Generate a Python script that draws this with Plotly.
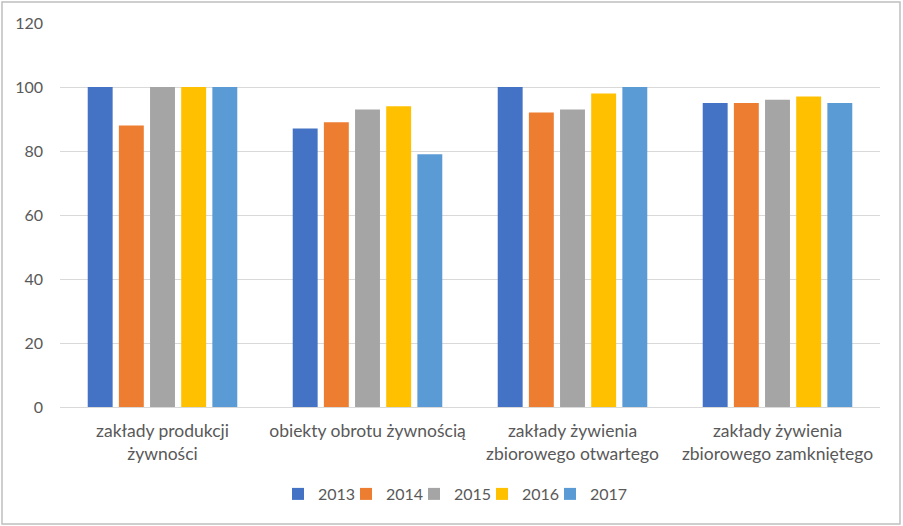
import plotly.graph_objects as go

categories = ["zakłady produkcji<br>żywności", "obiekty obrotu żywnością",
              "zakłady żywienia<br>zbiorowego otwartego", "zakłady żywienia<br>zbiorowego zamkniętego"]
years = ["2013", "2014", "2015", "2016", "2017"]
values_2013 = [100, 87, 100, 95]
values_2014 = [88, 89, 92, 95]
values_2015 = [100, 93, 93, 96]
values_2016 = [100, 94, 98, 97]
values_2017 = [100, 79, 100, 95]
colors = ["#4472C4", "#ED7D31", "#A5A5A5", "#FFC000", "#5B9BD5"]
yticks = [0, 20, 40, 60, 80, 100, 120]

series = [values_2013, values_2014, values_2015, values_2016, values_2017]

W, H = 903, 526
L, R, T, B = 60, 23, 23, 119
pw, ph = W - L - R, H - T - B

def px_x(p):
    return (p - L) / pw

def px_y(p):
    return (H - B - p) / ph

fig = go.Figure()
legends = {}
for i, (name, vals, c) in enumerate(zip(years, series, colors)):
    key = "legend" if i == 0 else f"legend{i + 1}"
    fig.add_trace(go.Bar(x=categories, y=vals, name=name, marker_color=c, marker_line_width=0,
                         legend=key))
    legends[key] = dict(orientation="h", yanchor="middle", y=px_y(494), xanchor="left",
                        x=px_x(278 + i * 68),
                        font=dict(size=16, color="#595959"), itemwidth=30,
                        bgcolor="rgba(0,0,0,0)")

fig.update_layout(
    width=W, height=H,
    margin=dict(l=L, r=R, t=T, b=B, autoexpand=False),
    paper_bgcolor="white", plot_bgcolor="white",
    font=dict(family="Lato, Liberation Sans, sans-serif", size=15, color="#595959"),
    barmode="group", bargap=0.24, bargroupgap=0.2,
    showlegend=True,
    xaxis=dict(showgrid=False, showline=True, linecolor="#D9D9D9", linewidth=1,
               ticks="", tickfont=dict(size=17.5, color="#595959"), ticklabelstandoff=8),
    yaxis=dict(range=[0, 120], tickvals=yticks, showgrid=True, gridcolor="#D9D9D9",
               gridwidth=1, zeroline=False, showline=False, ticks="",
               tickfont=dict(size=16, color="#595959"), ticklabelstandoff=16),
    shapes=[dict(type="rect", xref="paper", yref="paper",
                 x0=px_x(2), x1=px_x(900), y0=px_y(524), y1=px_y(2),
                 line=dict(color="#BFBFBF", width=1.5), fillcolor="rgba(0,0,0,0)", layer="below")],
    **legends,
)

fig.write_html("out.html", config={"displayModeBar": False},
               post_script="document.body.style.margin='0';document.body.style.overflow='hidden';")
